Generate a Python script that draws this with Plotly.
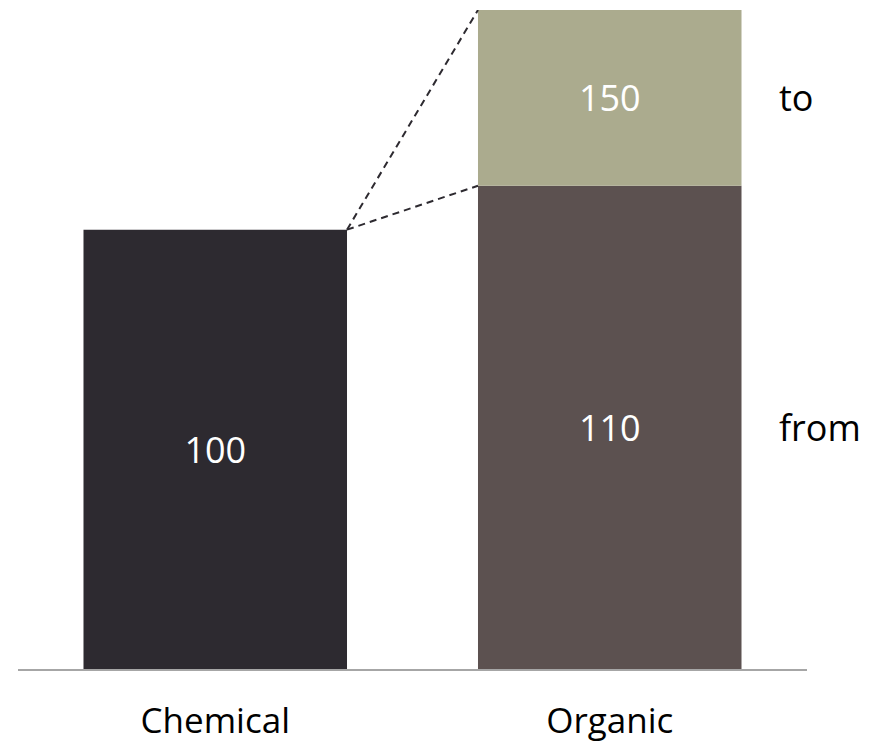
import plotly.graph_objects as go

# Data
categories = ["Chemical", "Organic"]
base_values = [100, 110]          # Chemical yield / Organic lower bound
upper_totals = [None, 150]        # Organic upper bound
range_labels = ["from", "to"]

base_colors = ["#2d2a30", "#5c5150"]
upper_color = "#abab8e"
font_family = "Open Sans, Noto Sans, sans-serif"
bar_width = 0.668

fig = go.Figure()

# Lower bars
fig.add_trace(go.Bar(
    x=categories,
    y=base_values,
    width=bar_width,
    marker=dict(color=base_colors, line=dict(width=0)),
    text=[str(v) for v in base_values],
    textposition="inside",
    insidetextanchor="middle",
    textangle=0,
    textfont=dict(family=font_family, size=36, color="white"),
    hoverinfo="skip",
))

# Upper segment of the Organic bar (from the lower bound up to the upper total)
up_x = [c for c, t in zip(categories, upper_totals) if t is not None]
up_base = [b for b, t in zip(base_values, upper_totals) if t is not None]
up_tot = [t for t in upper_totals if t is not None]
fig.add_trace(go.Bar(
    x=up_x,
    y=[t - b for t, b in zip(up_tot, up_base)],
    base=up_base,
    width=bar_width,
    marker=dict(color=upper_color, line=dict(width=0)),
    text=[str(t) for t in up_tot],
    textposition="inside",
    insidetextanchor="middle",
    textangle=0,
    textfont=dict(family=font_family, size=36, color="white"),
    hoverinfo="skip",
))

# Dashed connectors from the Chemical bar top to the Organic range
x_left = 0 + bar_width / 2
x_right = 1 - bar_width / 2
for target in [base_values[1], upper_totals[1]]:
    fig.add_shape(
        type="line", xref="x", yref="y",
        x0=x_left, y0=base_values[0], x1=x_right, y1=target,
        line=dict(color="#2d2a30", width=2, dash="7px,5px"),
    )

# Range labels to the right of the Organic bar
label_x = 1.423
fig.add_annotation(x=label_x, y=(base_values[1] + upper_totals[1]) / 2,
                   text=range_labels[1], showarrow=False,
                   xanchor="left", yanchor="middle", xref="x", yref="y")
fig.add_annotation(x=label_x, y=base_values[1] / 2,
                   text=range_labels[0], showarrow=False,
                   xanchor="left", yanchor="middle", xref="x", yref="y")

fig.update_layout(
    width=877, height=747,
    margin=dict(l=17.5, r=69.5, t=10, b=78),
    paper_bgcolor="white",
    plot_bgcolor="white",
    showlegend=False,
    barmode="overlay",
    font=dict(family=font_family, size=36, color="black"),
    xaxis=dict(
        range=[-0.5, 1.5],
        showline=True, linecolor="#a6a6a6", linewidth=2,
        showgrid=False, zeroline=False, ticks="",
        tickfont=dict(family=font_family, size=35, color="black"),
        ticklabelstandoff=20,
        automargin=False,
        fixedrange=True,
    ),
    yaxis=dict(
        range=[0, 150],
        visible=False, showgrid=False, zeroline=False,
        automargin=False,
        fixedrange=True,
    ),
)

fig.write_html("out.html", config={"displayModeBar": False})
